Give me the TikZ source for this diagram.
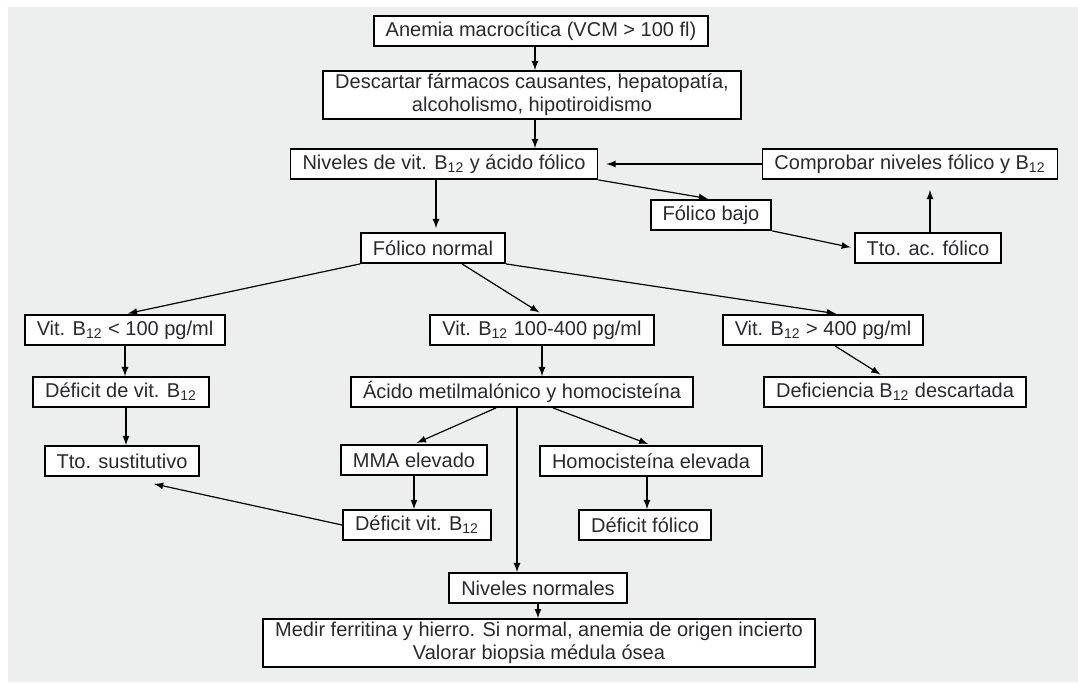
\documentclass[tikz,border=0pt]{standalone}
\usepackage{fontspec}
\setmainfont{Liberation Sans}
\definecolor{fondo}{HTML}{EDEEEE}
\definecolor{texto}{HTML}{2A2A2E}
\begin{document}
\begin{tikzpicture}[>=latex,x=0.5pt,y=-0.5pt,
    caja/.style={draw,line width=0.9pt,fill=white,text=texto,inner xsep=6pt,inner ysep=1.5pt,
        minimum height=15pt,align=center,font=\fontsize{10}{11.5}\selectfont},
    flecha/.style={->,line width=0.6pt}]
        \useasboundingbox (0,0) rectangle (1078,682);
        \fill[white] (0,0) rectangle (1078,682);
        \fill[fondo] (8,7) rectangle (1078,682);
        % cajas
        \node[caja] (anemia) at (541,31) {Anemia macrocítica (VCM > 100 fl)};
        \node[caja] (descartar) at (532,95) {Descartar fármacos causantes, hepatopatía,\\alcoholismo, hipotiroidismo};
        \node[caja] (niveles) at (444,164) {Niveles de vit. B\textsubscript{12} y ácido fólico};
        \node[caja] (comprobar) at (910,164) {Comprobar niveles fólico y B\textsubscript{12}};
        \node[caja] (bajo) at (711,215) {Fólico bajo};
        \node[caja] (ttofolico) at (928,248) {Tto. ac. fólico};
        \node[caja] (normal) at (433,248) {Fólico normal};
        \node[caja] (vitbaja) at (125,330) {Vit. B\textsubscript{12} < 100 pg/ml};
        \node[caja] (vitmedia) at (542,330) {Vit. B\textsubscript{12} 100-400 pg/ml};
        \node[caja] (vitalta) at (823,330) {Vit. B\textsubscript{12} > 400 pg/ml};
        \node[caja] (deficitb) at (121,392) {Déficit de vit. B\textsubscript{12}};
        \node[caja] (acido) at (522,392) {Ácido metilmalónico y homocisteína};
        \node[caja] (descartada) at (895,392) {Deficiencia B\textsubscript{12} descartada};
        \node[caja] (sustitutivo) at (122,461) {Tto. sustitutivo};
        \node[caja] (mma) at (414,460) {MMA elevado};
        \node[caja] (homo) at (651,461) {Homocisteína elevada};
        \node[caja] (deficitvit) at (417,525) {Déficit vit. B\textsubscript{12}};
        \node[caja] (deficitfol) at (645,525) {Déficit fólico};
        \node[caja] (normales) at (538,588) {Niveles normales};
        \node[caja] (medir) at (539,643) {Medir ferritina y hierro. Si normal, anemia de origen incierto\\Valorar biopsia médula ósea};
        % flechas
        \draw[flecha] ([xshift=-3pt]anemia.south) -- ([xshift=-3pt]anemia.south |- descartar.north);
        \draw[flecha] ([xshift=1.5pt]descartar.south) -- ([xshift=1.5pt]descartar.south |- niveles.north);
        \draw[flecha,shorten >=4pt] (comprobar.west) -- (niveles.east);
        \draw[flecha,shorten >=1.5pt] (niveles.south east) -- (bajo.north);
        \draw[flecha,shorten >=1.5pt] (bajo.south east) -- (ttofolico.west);
        \draw[flecha,shorten >=5pt] ([xshift=1pt]ttofolico.north) -- ([xshift=1pt]ttofolico.north |- comprobar.south);
        \draw[flecha,shorten >=2pt] ([xshift=1.5pt]normal.north |- niveles.south) -- ([xshift=1.5pt]normal.north);
        \draw[flecha,shorten >=1.5pt] (normal.south west) -- (vitbaja.north);
        \draw[flecha,shorten >=1.5pt] ([xshift=14.5pt]normal.south) -- (vitmedia.north);
        \draw[flecha,shorten >=1.5pt] (normal.south east) -- ([xshift=8pt]vitalta.north);
        \draw[flecha] (vitbaja.south) -- (vitbaja.south |- deficitb.north);
        \draw[flecha] (vitmedia.south) -- (vitmedia.south |- acido.north);
        \draw[flecha,shorten >=1.5pt] ([xshift=6pt]vitalta.south) -- ([xshift=-6pt]descartada.north);
        \draw[flecha] ([xshift=2.5pt]deficitb.south) -- ([xshift=2.5pt]deficitb.south |- sustitutivo.north);
        \draw[flecha,shorten >=1.5pt] ([xshift=-13pt]acido.south) -- (mma.north);
        \draw[flecha,shorten >=1.5pt] ([xshift=15.5pt]acido.south) -- (homo.north);
        \draw[flecha] ([xshift=-2.5pt]acido.south) -- ([xshift=-2.5pt]acido.south |- normales.north);
        \draw[flecha] (mma.south) -- (mma.south |- deficitvit.north);
        \draw[flecha] ([xshift=-2pt]homo.south) -- ([xshift=-2pt]homo.south |- deficitfol.north);
        \draw[flecha] (deficitvit.west) -- ([shift={(16pt,-3.5pt)}]sustitutivo.south);
        \draw[flecha] (normales.south) -- (normales.south |- medir.north);
\end{tikzpicture}
\end{document}
